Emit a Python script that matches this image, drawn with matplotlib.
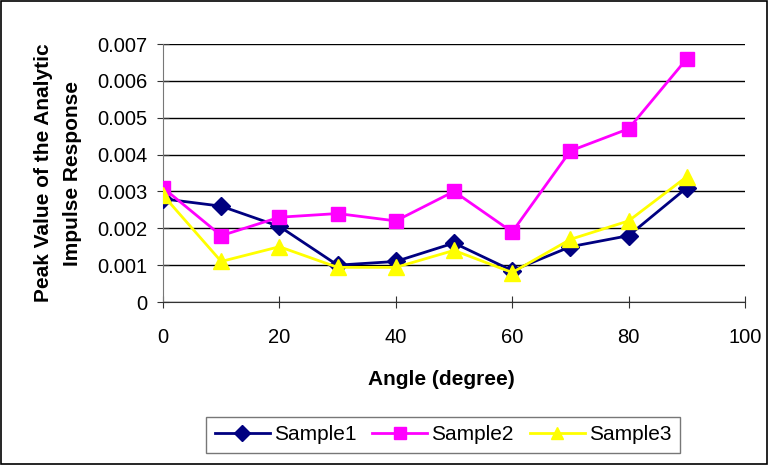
import matplotlib
matplotlib.use("Agg")
import matplotlib.pyplot as plt
from matplotlib.patches import Rectangle

plt.rcParams['font.family'] = ['Liberation Sans', 'DejaVu Sans']

angles = [0, 10, 20, 30, 40, 50, 60, 70, 80, 90]
sample1 = [0.0028, 0.0026, 0.00205, 0.0010, 0.0011, 0.0016, 0.00085, 0.0015, 0.0018, 0.0031]
sample2 = [0.0031, 0.0018, 0.0023, 0.0024, 0.0022, 0.0030, 0.0019, 0.0041, 0.0047, 0.0066]
sample3 = [0.0029, 0.0011, 0.0015, 0.00094, 0.00094, 0.0014, 0.0008, 0.0017, 0.0022, 0.0034]
x_ticks = [0, 20, 40, 60, 80, 100]
y_ticks = [0, 0.001, 0.002, 0.003, 0.004, 0.005, 0.006, 0.007]
y_tick_labels = ['0', '0.001', '0.002', '0.003', '0.004', '0.005', '0.006', '0.007']

fig = plt.figure(figsize=(7.69, 4.65), dpi=100)
ax = fig.add_axes([163 / 769, 1 - 302 / 465, 582 / 769, 258 / 465])

ax.plot(angles, sample1, color='#000080', marker='D', markersize=9.5, lw=2, label='Sample1', zorder=3)
ax.plot(angles, sample2, color='#FF00FF', marker='s', markersize=10.5, lw=2, label='Sample2', zorder=3)
ax.plot(angles, sample3, color='#FFFF00', marker='^', markersize=11, lw=2, label='Sample3', zorder=4)

ax.set_xlim(0, 100)
ax.set_ylim(0, 0.007)
ax.set_xticks(x_ticks)
ax.set_yticks(y_ticks)
ax.set_yticklabels(y_tick_labels)
ax.tick_params(axis='both', labelsize=14.5, direction='inout', length=9, color='#333333')
ax.tick_params(axis='x', pad=14)
ax.tick_params(axis='y', pad=7)

ax.grid(axis='y', color='black', lw=1)
ax.set_axisbelow(True)
for side in ['top', 'right']:
    ax.spines[side].set_visible(False)
ax.spines['left'].set_color('#777777')
ax.spines['bottom'].set_color('#333333')

ax.set_xlabel('Angle (degree)', fontsize=15, fontweight='bold', labelpad=18)
ax.xaxis.set_label_coords(0.4785, -0.265)
ax.set_ylabel('Peak Value of the Analytic\nImpulse Response', fontsize=15,
              fontweight='bold', labelpad=11, linespacing=1.6)

leg = fig.legend(loc='center', bbox_to_anchor=(443 / 769, 1 - 435 / 465),
                 bbox_transform=fig.transFigure, ncol=3, fontsize=15,
                 frameon=True, fancybox=False, edgecolor='#555555',
                 handlelength=2.65, columnspacing=0.75, handletextpad=0.2,
                 borderpad=0.4, borderaxespad=0, markerscale=0.85)
leg.get_frame().set_linewidth(1)

fig.patches.append(Rectangle((0.001, 0.002), 0.997, 0.996, transform=fig.transFigure,
                             fill=False, edgecolor='black', lw=1.2))

fig.savefig('out.png', dpi=100)
